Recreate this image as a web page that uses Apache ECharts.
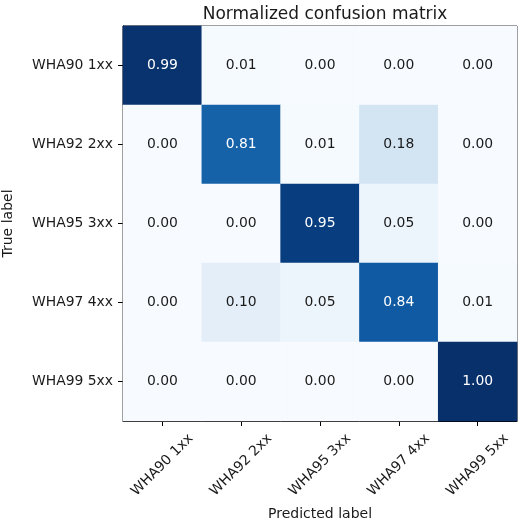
<!DOCTYPE html>
<html>
<head>
<meta charset="utf-8">
<script src="https://cdn.jsdelivr.net/npm/echarts@6/dist/echarts.min.js"></script>
<style>
  html, body { margin: 0; padding: 0; background: #fff; }
  #chart { width: 519px; height: 522px; }
</style>
</head>
<body>
<div id="chart"></div>
<script>
// Class names shared by both axes
const classes = ['WHA90 1xx', 'WHA92 2xx', 'WHA95 3xx', 'WHA97 4xx', 'WHA99 5xx'];

// Normalized confusion matrix, one row per true label
const row0 = [0.99, 0.01, 0.00, 0.00, 0.00];
const row1 = [0.00, 0.81, 0.01, 0.18, 0.00];
const row2 = [0.00, 0.00, 0.95, 0.05, 0.00];
const row3 = [0.00, 0.10, 0.05, 0.84, 0.01];
const row4 = [0.00, 0.00, 0.00, 0.00, 1.00];
const matrix = [row0, row1, row2, row3, row4];

// Matplotlib "Blues" colormap stops
const blues = ['#f7fbff', '#deebf7', '#c6dbef', '#9ecae1', '#6baed6',
               '#4292c6', '#2171b5', '#08519c', '#08306b'];

const FONT = 'DejaVu Sans';
const vmax = Math.max(...matrix.flat());
const thresh = vmax / 2;

const cells = [];
matrix.forEach((row, i) => {
  row.forEach((v, j) => {
    cells.push({
      value: [j, i, v],
      label: { color: v > thresh ? '#ffffff' : '#1a1a1a' }
    });
  });
});

const chart = echarts.init(document.getElementById('chart'), null, { renderer: 'canvas' });
chart.setOption({
  animation: false,
  backgroundColor: '#ffffff',
  title: {
    text: 'Normalized confusion matrix',
    left: 320,
    top: 1,
    textAlign: 'center',
    textStyle: { fontFamily: FONT, fontSize: 17, fontWeight: 'normal', color: '#1a1a1a' }
  },
  grid: {
    left: 123, top: 26, width: 394, height: 395,
    outerBoundsMode: 'none', containLabel: false,
    show: true, borderColor: '#000', borderWidth: 1, backgroundColor: 'transparent'
  },
  visualMap: {
    show: false, type: 'continuous', min: 0, max: vmax, dimension: 2,
    inRange: { color: blues }
  },
  xAxis: {
    type: 'category',
    data: classes,
    name: 'Predicted label',
    nameLocation: 'middle',
    nameGap: 86,
    nameTextStyle: { fontFamily: FONT, fontSize: 14, color: '#1a1a1a' },
    axisLine: { show: true, lineStyle: { color: '#000', width: 1 } },
    axisTick: { show: true, alignWithLabel: true, length: 5, lineStyle: { color: '#000', width: 1 } },
    axisLabel: {
      rotate: 45, align: 'center', verticalAlign: 'middle', margin: 44,
      fontFamily: FONT, fontSize: 13.9, color: '#1a1a1a'
    },
    splitLine: { show: false }
  },
  yAxis: {
    type: 'category',
    data: classes,
    inverse: true,
    name: 'True label',
    nameLocation: 'middle',
    nameGap: 108,
    nameRotate: 90,
    nameTextStyle: { fontFamily: FONT, fontSize: 14, color: '#1a1a1a' },
    axisLine: { show: true, lineStyle: { color: '#000', width: 1 } },
    axisTick: { show: true, alignWithLabel: true, length: 5, lineStyle: { color: '#000', width: 1 } },
    axisLabel: { margin: 10, fontFamily: FONT, fontSize: 13.9, color: '#1a1a1a' },
    splitLine: { show: false }
  },
  series: [{
    type: 'heatmap',
    data: cells,
    label: {
      show: true,
      fontFamily: FONT,
      fontSize: 13.9,
      formatter: p => p.value[2].toFixed(2)
    },
    itemStyle: { borderWidth: 0 },
    emphasis: { disabled: true }
  }]
});
</script>
</body>
</html>
